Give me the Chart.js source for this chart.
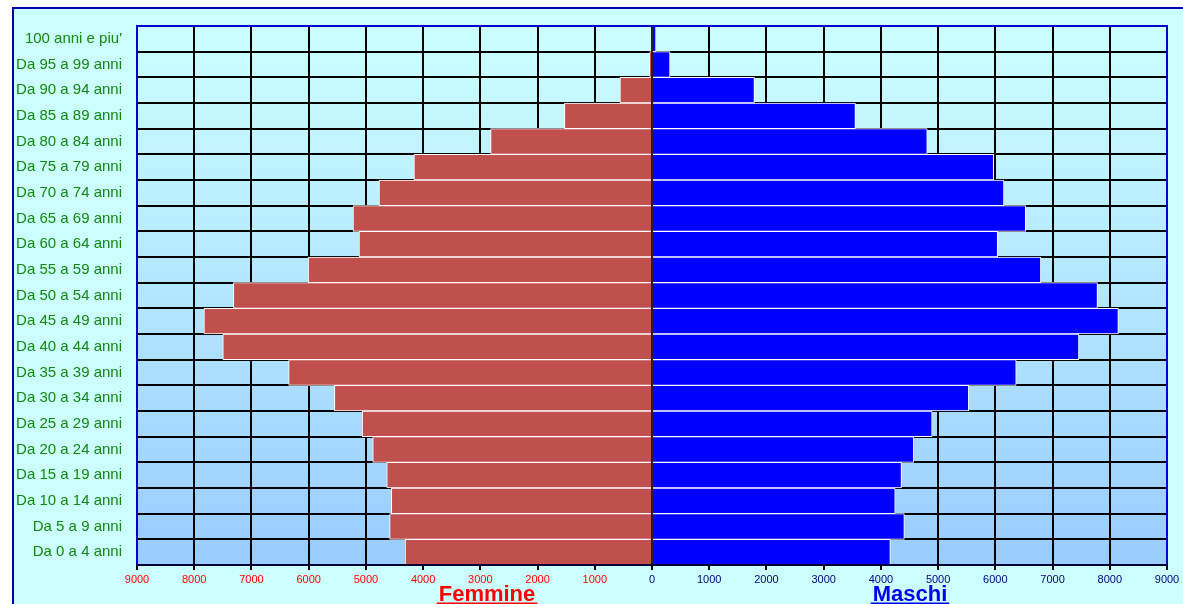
<!DOCTYPE html>
<html>
<head>
<meta charset="utf-8">
<script src="https://cdn.jsdelivr.net/npm/chart.js@4.4.1/dist/chart.umd.min.js"></script>
<style>
  html, body { margin: 0; padding: 0; background: #ffffff; overflow: hidden; }
  #frame { position: absolute; left: 12px; top: 7px; width: 1200px; height: 700px;
           border: 2px solid #0000b0; background: #ccffff; }
  #wrap { position: absolute; left: 0; top: 0; width: 1183px; height: 604px; }
</style>
</head>
<body>
<div id="frame"></div>
<div id="wrap"><canvas id="c"></canvas></div>
<script>
const categories = [
  "100 anni e piu'", "Da 95 a 99 anni", "Da 90 a 94 anni", "Da 85 a 89 anni",
  "Da 80 a 84 anni", "Da 75 a 79 anni", "Da 70 a 74 anni", "Da 65 a 69 anni",
  "Da 60 a 64 anni", "Da 55 a 59 anni", "Da 50 a 54 anni", "Da 45 a 49 anni",
  "Da 40 a 44 anni", "Da 35 a 39 anni", "Da 30 a 34 anni", "Da 25 a 29 anni",
  "Da 20 a 24 anni", "Da 15 a 19 anni", "Da 10 a 14 anni", "Da 5 a 9 anni",
  "Da 0 a 4 anni"
];
const femmine = [10, 40, 560, 1530, 2820, 4160, 4770, 5225, 5120, 6005, 7315,
                 7830, 7500, 6350, 5550, 5065, 4880, 4635, 4555, 4585, 4315];
const maschi = [70, 315, 1790, 3555, 4810, 5970, 6150, 6530, 6040, 6795, 7785,
                8150, 7460, 6365, 5535, 4895, 4575, 4360, 4250, 4410, 4165];
const axisMin = -9000;
const axisMax = 9000;
const axisStep = 1000;
const titleFemmine = "Femmine";
const titleMaschi = "Maschi";

const FONT = "'Liberation Sans', Arial, sans-serif";

const decor = {
  id: 'decor',
  beforeDraw(chart) {
    const { ctx, chartArea: a } = chart;
    const g = ctx.createLinearGradient(0, a.top, 0, a.bottom);
    g.addColorStop(0, '#ccffff');
    g.addColorStop(1, '#99ccff');
    ctx.save();
    ctx.fillStyle = g;
    ctx.fillRect(a.left, a.top, a.right - a.left, a.bottom - a.top);
    ctx.restore();
  },
  afterDatasetsDraw(chart) {
    const { ctx, chartArea: a, scales } = chart;
    const x0 = scales.x.getPixelForValue(0);
    ctx.save();
    ctx.strokeStyle = '#222222';
    ctx.lineWidth = 2;
    ctx.beginPath();
    ctx.moveTo(x0, a.top);
    ctx.lineTo(x0, a.bottom);
    ctx.stroke();
    ctx.strokeStyle = '#0000cc';
    ctx.lineWidth = 2;
    ctx.beginPath();
    ctx.moveTo(a.left, a.bottom);
    ctx.lineTo(a.left, a.top);
    ctx.lineTo(a.right, a.top);
    ctx.lineTo(a.right, a.bottom);
    ctx.stroke();
    ctx.strokeStyle = '#000033';
    ctx.beginPath();
    ctx.moveTo(a.left, a.bottom);
    ctx.lineTo(a.right, a.bottom);
    ctx.stroke();
    ctx.restore();
  },
  afterDraw(chart) {
    const { ctx } = chart;
    ctx.save();
    ctx.font = 'bold 22px ' + FONT;
    ctx.textAlign = 'center';
    ctx.textBaseline = 'alphabetic';
    const items = [[titleFemmine, 487, '#ff0000'], [titleMaschi, 910, '#0000ee']];
    for (const [t, x, col] of items) {
      ctx.fillStyle = col;
      ctx.fillText(t, x, 601);
      const w = ctx.measureText(t).width;
      ctx.fillRect(x - w / 2 - 2, 602.5, w + 4, 2);
    }
    ctx.restore();
  }
};

new Chart(document.getElementById('c'), {
  type: 'bar',
  data: {
    labels: categories,
    datasets: [
      { label: titleFemmine, data: femmine.map(v => -v), backgroundColor: '#c0504d',
        borderColor: '#ffffff', borderWidth: 1, borderSkipped: 'start',
        barPercentage: 1, categoryPercentage: 1 },
      { label: titleMaschi, data: maschi, backgroundColor: '#0000ff',
        borderColor: '#ffffff', borderWidth: 1, borderSkipped: 'start',
        barPercentage: 1, categoryPercentage: 1 }
    ]
  },
  options: {
    indexAxis: 'y',
    responsive: true,
    maintainAspectRatio: false,
    animation: false,
    layout: { padding: { top: 26, right: 16, left: 0, bottom: 0 } },
    plugins: { legend: { display: false }, tooltip: { enabled: false } },
    scales: {
      x: {
        stacked: true, min: axisMin, max: axisMax,
        ticks: {
          stepSize: axisStep, autoSkip: false, maxRotation: 0, padding: 3,
          callback: v => Math.abs(v),
          color: c => (c.tick && c.tick.value < 0) ? '#ff0000' : '#000080',
          font: { family: FONT, size: 11 }
        },
        grid: { color: '#000000', lineWidth: 2, tickLength: 5, drawTicks: true },
        border: { display: false },
        afterFit: s => { s.height = 39; }
      },
      y: {
        stacked: true,
        ticks: { color: '#118811', font: { family: FONT, size: 15 }, padding: 15, autoSkip: false },
        grid: { color: '#000000', lineWidth: 2, drawTicks: false, offset: true },
        border: { display: false },
        afterFit: s => { s.width = 137; }
      }
    }
  },
  plugins: [decor]
});
</script>
</body>
</html>
